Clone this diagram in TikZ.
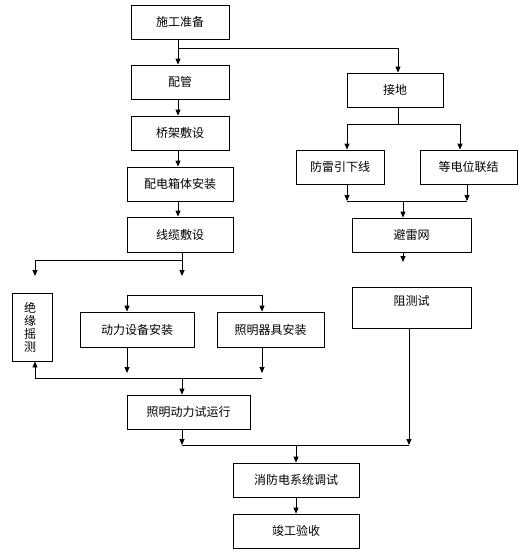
\documentclass[tikz,border=0pt]{standalone}
\usepackage{fontspec}
\setmainfont{Noto Sans CJK SC}
\usetikzlibrary{arrows.meta,calc}
\begin{document}
\begin{tikzpicture}[x=1pt,y=-1pt,
  box/.style={draw,line width=0.8pt,inner sep=0pt,font=\fontsize{12}{13}\selectfont},
  ln/.style={line width=0.8pt},
  ar/.style={line width=0.8pt,-{Triangle[length=6pt,width=5pt]}}]
\useasboundingbox (0,0) rectangle (521,557);
% boxes
\node[box,minimum width=98pt,minimum height=34pt] (prep) at (180,22) {施工准备};
\node[box,minimum width=98pt,minimum height=34pt] (pipe) at (180,82) {配管};
\node[box,minimum width=98pt,minimum height=34pt] (tray) at (180,133) {桥架敷设};
\node[box,minimum width=106pt,minimum height=34pt] (dbox) at (180,184) {配电箱体安装};
\node[box,minimum width=106pt,minimum height=35pt] (cable) at (180,234.5) {线缆敷设};
\node[box,minimum width=96pt,minimum height=34pt] (ground) at (395,90) {接地};
\node[box,minimum width=88pt,minimum height=34pt] (down) at (340,167) {防雷引下线};
\node[box,minimum width=97pt,minimum height=34pt] (equip) at (468.5,167) {等电位联结};
\node[box,minimum width=119pt,minimum height=34pt] (net) at (411.5,235) {避雷网};
\node[box,minimum width=119pt,minimum height=41pt,text depth=14pt] (resist) at (411.5,307.5) {阻测试};
\node[box,minimum width=40pt,minimum height=68pt,align=center] (insul) at (32,327) {\hspace*{-4pt}绝\\\hspace*{-4pt}缘\\\hspace*{-4pt}摇\\\hspace*{-4pt}测};
\node[box,minimum width=114pt,minimum height=35pt] (power) at (137,329.5) {动力设备安装};
\node[box,minimum width=107pt,minimum height=35pt] (light) at (270.5,329.5) {照明器具安装};
\node[box,minimum width=123pt,minimum height=34pt] (trial) at (188.5,412) {照明动力试运行};
\node[box,minimum width=126pt,minimum height=34pt] (fire) at (296,480) {消防电系统调试};
\node[box,minimum width=126pt,minimum height=34pt] (accept) at (296,531) {竣工验收};
% junction coordinates
\coordinate (j1) at (178,48);
\coordinate (j1r) at (398,48);
\coordinate (c1) at (182,260);
\coordinate (c1l) at (35,260);
\coordinate (c1le) at (35,276);
\coordinate (c1re) at (182,276);
\coordinate (p1l) at (127,295);
\coordinate (p1r) at (262,295);
\coordinate (p2l) at (35,378);
\coordinate (p2m) at (182,378);
\coordinate (p2r) at (262,378);
\coordinate (p2a) at (127,373);
\coordinate (p2b) at (262,373);
\coordinate (g1) at (398,124);
\coordinate (g1l) at (347,124);
\coordinate (g1r) at (460,124);
\coordinate (g2l) at (347,201);
\coordinate (g2r) at (467,201);
\coordinate (g2m) at (403,201);
\coordinate (nete) at (403,262);
\coordinate (f1l) at (182,445);
\coordinate (f1m) at (296,445);
\coordinate (f1r) at (409,445);
% left column
\draw[ar] (prep.south -| j1) -- (pipe.north -| j1);
\draw[ln] (j1) -- (j1r);
\draw[ar] (j1r) -- (ground.north -| j1r);
\draw[ar] (pipe.south -| j1) -- (tray.north -| j1);
\draw[ar] (tray.south -| j1) -- (dbox.north -| j1);
\draw[ar] (dbox.south -| j1) -- (cable.north -| j1);
\draw[ln] (cable.south -| c1) -- (c1) -- (c1l);
\draw[ar] (c1l) -- (c1le);
\draw[ar] (c1) -- (c1re);
\draw[ln] (p1l) -- (p1r);
\draw[ar] (p1l) -- (power.north -| p1l);
\draw[ar] (p1r) -- (light.north -| p1r);
\draw[ar] (power.south -| p1l) -- (p2a);
\draw[ar] (light.south -| p1r) -- (p2b);
\draw[ln] (p2l) -- (p2r);
\draw[ar] (p2l) -- (insul.south -| p2l);
\draw[ar] (p2m) -- (trial.north -| p2m);
\draw[ar] (trial.south -| f1l) -- (f1l);
\draw[ln] (f1l) -- (f1r);
\draw[ar] (f1m) -- (fire.north);
\draw[ar] (fire.south) -- (accept.north);
% right column
\draw[ln] (ground.south -| g1) -- (g1);
\draw[ln] (g1l) -- (g1r);
\draw[ar] (g1l) -- (down.north -| g1l);
\draw[ar] (g1r) -- (equip.north -| g1r);
\draw[ar] (down.south -| g2l) -- (g2l);
\draw[ar] (equip.south -| g2r) -- (g2r);
\draw[ln] (g2l) -- (g2r);
\draw[ar] (g2m) -- (net.north -| g2m);
\draw[ar] (net.south -| nete) -- (nete);
\draw[ar] (resist.south -| f1r) -- (f1r);
\end{tikzpicture}
\end{document}
